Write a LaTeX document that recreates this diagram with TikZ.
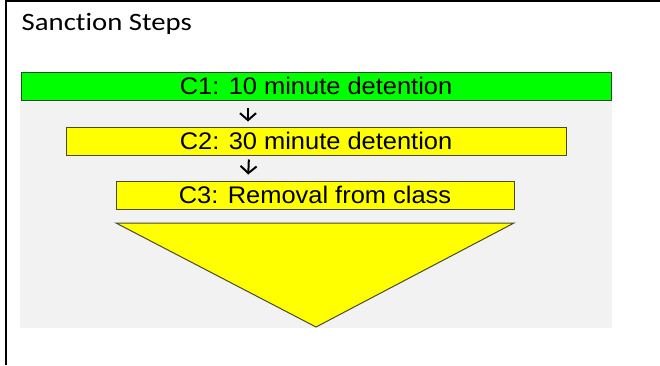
\documentclass[tikz,border=0pt]{standalone}
\usepackage{fontspec}
\usepackage{graphicx}
\setmainfont{Liberation Sans}
\newfontfamily\titlefont[Ligatures=NoCommon]{Carlito}
\usetikzlibrary{arrows.meta}
\definecolor{bggray}{HTML}{F2F2F2}
\definecolor{cgreen}{HTML}{00FF00}
\definecolor{cyellow}{HTML}{FFFF00}
\definecolor{gborder}{HTML}{2A4A2A}
\definecolor{yborder}{HTML}{4A4A30}
\tikzset{
  stepbox/.style={rectangle, inner sep=0pt, line width=1pt, minimum height=28pt, text=black,
    font=\fontsize{24}{28}\selectfont},
  flowarrow/.style={line width=2pt, -{Straight Barb[length=7pt,width=16pt,line width=2pt]}},
}
\newcommand{\wide}[1]{\scalebox{1.06}[1]{#1}}
\begin{document}
\begin{tikzpicture}[x=1pt,y=-1pt]
\useasboundingbox (0,0) rectangle (660,365);
% frame lines
\draw[line width=2.5pt] (6,1.2) -- (660,1.2);
\draw[line width=2.5pt] (6,0) -- (6,365);
% title
\node[anchor=base west, inner sep=0pt, text=black, font=\titlefont\fontsize{25}{30}\selectfont] (title) at (21.5,30) {\scalebox{1.15}[1]{Sanction Steps}};
% gray panel
\fill[bggray] (20,72) rectangle (612,328);
% boxes
\node[stepbox, fill=cgreen, draw=gborder, minimum width=590pt] (c1) at (316,86) {\wide{C1: 10 minute detention}};
\node[stepbox, fill=cyellow, draw=yborder, minimum width=500pt] (c2) at (316,141) {\wide{C2: 30 minute detention}};
\node[stepbox, fill=cyellow, draw=yborder, minimum width=398pt] (c3) at (315,195) {\wide{C3: Removal from class}};
% arrows
\draw[flowarrow, shorten <=7pt, shorten >=5pt] ([xshift=-68pt]c1.south) -- ([xshift=-68pt]c2.north);
\draw[flowarrow, shorten <=4pt, shorten >=6pt] ([xshift=-67pt]c2.south) -- ([xshift=-67pt]c3.north);
% triangle
\coordinate (tl) at (116,223);
\coordinate (tr) at (514,223);
\coordinate (tb) at (316,327);
\draw[fill=cyellow, draw=yborder, line width=1pt, line join=miter] (tl) -- (tr) -- (tb) -- cycle;
\end{tikzpicture}
\end{document}
